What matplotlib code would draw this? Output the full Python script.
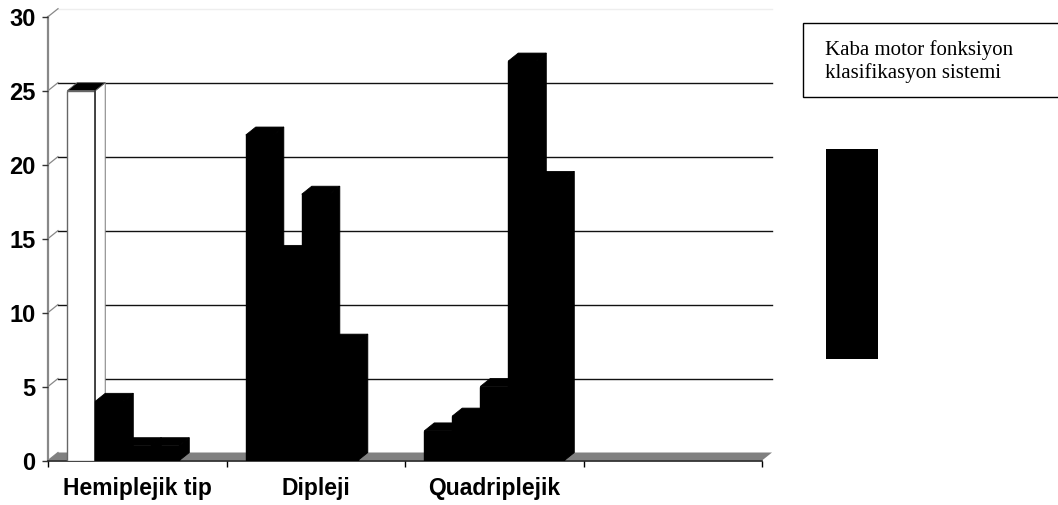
import matplotlib
matplotlib.use("Agg")
import matplotlib.pyplot as plt
from matplotlib.patches import Polygon, Rectangle

# Data: five GMFCS levels per palsy type
categories = ["Hemiplejik tip", "Dipleji", "Quadriplejik", ""]
hemiplejik = [25, 4, 1, 1, 0]
dipleji = [22, 14, 18, 8, 0]
quadriplejik = [2, 3, 5, 27, 19]
empty_group = [0, 0, 0, 0, 0]
groups = [hemiplejik, dipleji, quadriplejik, empty_group]
y_ticks = [0, 5, 10, 15, 20, 25, 30]
legend_title = "Kaba motor fonksiyon\nklasifikasyon sistemi"

W, H = 1058, 505
fig = plt.figure(figsize=(W / 100, H / 100), dpi=100)
fig.patch.set_facecolor("white")

x0_px, x1_px = 48, 762
y0_px, y30_px = 460.5, 16.7
ax = fig.add_axes([x0_px / W, (H - y0_px) / H,
                   (x1_px - x0_px) / W, (y0_px - y30_px) / H])
ax.set_xlim(0, 4)
ax.set_ylim(0, 30)
ax.patch.set_visible(False)
for s in ax.spines.values():
    s.set_visible(False)

# depth offset of the pseudo-3D walls and columns, in data units
px_x = 4 / (x1_px - x0_px)
px_y = 30 / (y0_px - y30_px)
dx = 10 * px_x
dy = 8 * px_y

# floor
ax.add_patch(Polygon([(0, 0), (4, 0), (4 + dx, dy), (dx, dy)], closed=True,
                     facecolor="#808080", edgecolor="none", zorder=1, clip_on=False))
ax.plot([0, 4], [0, 0], color="#222222", lw=1.2, zorder=1.5, clip_on=False)

# back-wall gridlines and side-wall diagonals
for v in y_ticks[1:]:
    col = "#eeeeee" if v == 30 else "#111111"
    ax.plot([dx, 4 + dx], [v + dy, v + dy], color=col, lw=1, zorder=0.5, clip_on=False)
for v in y_ticks:
    ax.plot([0, dx], [v, v + dy], color="#888888", lw=0.9, zorder=0.6, clip_on=False)
ax.plot([0, 0], [0, 30], color="#888888", lw=1.6, zorder=0.7, clip_on=False)

# columns
n = 5
bw = 28 * px_x
for gi, vals in enumerate(groups):
    start = gi + 0.5 - n * bw / 2
    for bi, v in enumerate(vals):
        if v <= 0:
            continue
        xl = start + bi * bw
        xr = xl + bw
        z = 2 + gi * 10 + bi
        hollow = (gi == 0 and bi == 0)
        face = "white" if hollow else "black"
        edge = "#666666" if hollow else "black"
        ax.bar(xl, v, width=bw, align="edge", color=face, edgecolor=edge,
               linewidth=1.0, zorder=z)
        if hollow:
            ax.plot([xr, xr], [0, v], color="#333333", lw=1.2, zorder=z + 0.2)
        ax.add_patch(Polygon([(xl, v), (xr, v), (xr + dx, v + dy), (xl + dx, v + dy)],
                             closed=True, facecolor="black", edgecolor=edge,
                             linewidth=0.6, zorder=z + 0.1, clip_on=False))
        ax.add_patch(Polygon([(xr, 0), (xr + dx, dy), (xr + dx, v + dy), (xr, v)],
                             closed=True, facecolor=face,
                             edgecolor="#777777" if hollow else "black",
                             linewidth=0.7, zorder=z + 0.05, clip_on=False))

# axes ticks and labels
ax.set_yticks(y_ticks)
ax.set_yticklabels([str(t) for t in y_ticks], fontsize=17, fontweight="bold",
                   family="Liberation Sans")
ax.tick_params(axis="y", direction="out", length=4, width=1, color="#333333", pad=5)

ax.set_xticks([0, 1, 2, 3, 4])
ax.set_xticklabels([])
ax.set_xticks([0.5, 1.5, 2.5, 3.5], minor=True)
ax.set_xticklabels(categories, minor=True, fontsize=16.5, fontweight="bold",
                   family="Liberation Sans")
ax.tick_params(axis="x", which="major", direction="out", length=4.5, width=1,
               color="black")
ax.tick_params(axis="x", which="minor", length=0, pad=12)

# legend panel
fig.patches.append(Rectangle((803 / W, (H - 96.7) / H), 260 / W, 73.4 / H,
                             transform=fig.transFigure, facecolor="white",
                             edgecolor="black", linewidth=1.0))
fig.text(825 / W, (H - 55) / H, legend_title.split("\n")[0], fontsize=15,
         family="Liberation Serif", va="baseline", ha="left")
fig.text(825 / W, (H - 78.3) / H, legend_title.split("\n")[1], fontsize=15,
         family="Liberation Serif", va="baseline", ha="left")
fig.patches.append(Rectangle((826 / W, (H - 358.5) / H), 52 / W, 209.5 / H,
                             transform=fig.transFigure, facecolor="black",
                             edgecolor="none"))

fig.savefig("out.png", dpi=100)
